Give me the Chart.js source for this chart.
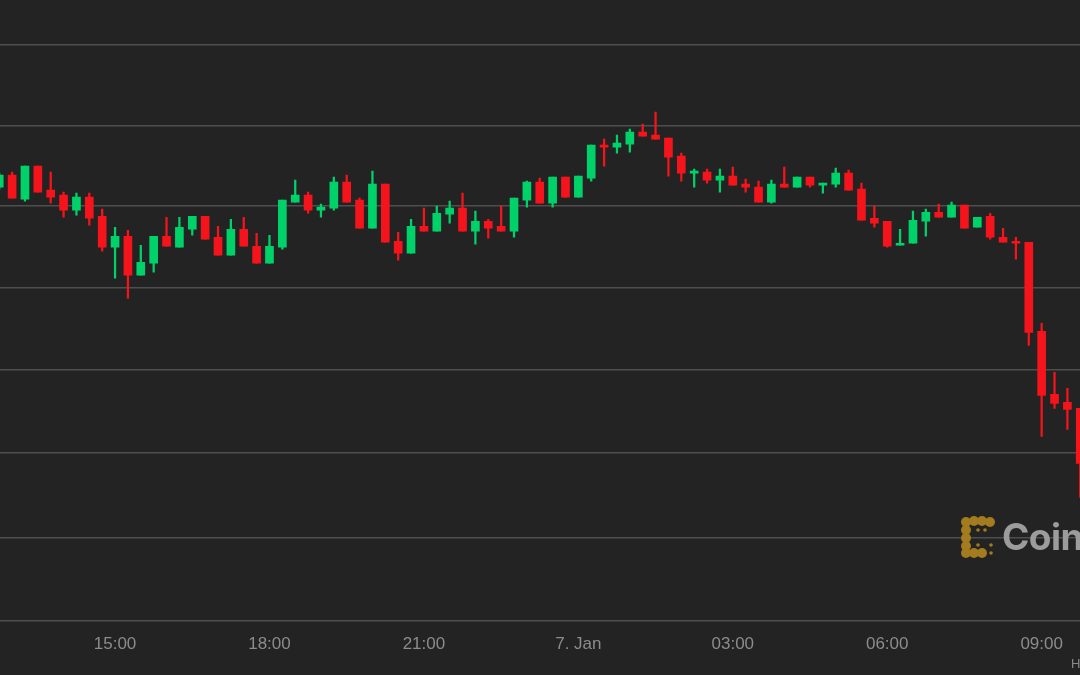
<!DOCTYPE html>
<html>
<head>
<meta charset="utf-8">
<script src="https://cdn.jsdelivr.net/npm/chart.js@4"></script>
<style>
    body { margin: 0; background: #232323; overflow: hidden; }
    #wrap { position: relative; width: 1080px; height: 675px; }
    #mark {
        position: absolute; left: 1002px; top: 514px;
        font: bold 37px "Inter", "Liberation Sans", sans-serif;
        color: #9c9c9c; white-space: nowrap; letter-spacing: -0.5px;
    }
    #corner {
        position: absolute; left: 1071px; top: 656px;
        font: 13px "Liberation Sans", sans-serif; color: #8a8a8a;
    }
</style>
</head>
<body>
<div id="wrap">
    <canvas id="chart" width="1080" height="675"></canvas>
    <div id="mark">CoinDesk</div>
    <div id="corner">H</div>
</div>
<script>
// 15-minute candles, index 9 = 15:00 on 6 Jan
const opens  = [813,825,801,834,810,805,790,803,784,753,764,725,737,764,753,771,784,763,745,771,754,737,753,798,805,790,792,818,800,772,816,759,747,774,769,786,792,769,779,774,769,800,818,797,823,803,822,855,853,856,868,865,862,844,827,828,820,824,816,813,798,816,813,823,815,816,827,811,782,779,755,757,779,788,783,795,773,784,763,759,758,669,606,598,592];
const highs  = [827,828,834,834,828,808,807,807,791,773,770,755,764,783,783,784,784,774,781,783,767,765,800,820,808,796,823,825,802,829,816,768,781,792,794,799,807,789,781,794,802,819,822,823,823,824,855,861,865,871,876,888,862,847,831,831,831,833,821,819,820,833,823,823,817,832,830,817,794,779,771,789,791,796,798,795,783,787,772,763,758,677,628,612,592];
const lows   = [811,802,799,808,797,783,785,775,749,722,702,725,728,754,753,765,761,745,745,754,737,737,751,798,787,783,790,798,772,772,758,740,747,769,769,777,769,756,762,769,763,793,797,793,803,803,819,834,847,848,864,861,824,819,813,817,808,815,808,798,797,813,813,813,807,813,810,780,773,753,755,757,764,783,783,772,773,761,758,741,655,564,592,571,503];
const closes = [825,802,834,808,803,790,803,782,753,764,725,738,764,754,773,784,761,745,771,754,737,754,800,805,790,793,818,798,772,816,758,747,774,769,787,792,769,779,772,769,802,818,797,823,803,824,855,853,857,868,864,861,843,827,828,820,824,815,813,798,816,813,823,815,817,827,810,780,777,754,757,780,788,783,795,772,783,763,758,757,668,605,597,591,537];

const tickIndex  = [9, 21, 33, 45, 57, 69, 81];
const tickLabels = ['15:00', '18:00', '21:00', '7. Jan', '03:00', '06:00', '09:00'];
const gridLevels = [380, 463, 548, 631, 713, 794, 874, 955];

const UP = '#00d26a';
const DOWN = '#f5141b';
const colors = opens.map((o, i) => closes[i] >= o ? UP : DOWN);

const logoPlugin = {
    id: 'logo',
    afterDraw(chart) {
        const c = chart.ctx;
        c.save();
        c.fillStyle = '#a47b1e';
        const dots = [[966,522],[974,521],[982,521],[990,522],[966,530],[966,538],[966,546],[974,553],[982,553],[966,553]];
        dots.forEach(([x, y]) => { c.beginPath(); c.arc(x, y, 5, 0, Math.PI * 2); c.fill(); });
        [[978,530],[985,530],[978,545],[991,545],[991,553]].forEach(([x, y]) => {
            c.beginPath(); c.arc(x, y, 1.8, 0, Math.PI * 2); c.fill();
        });
        c.restore();
    }
};

new Chart(document.getElementById('chart'), {
    type: 'bar',
    data: {
        datasets: [{
            label: 'wick',
            data: opens.map((_, i) => ({x: i, y: [lows[i], highs[i]]})),
            backgroundColor: colors,
            barThickness: 1.6,
            grouped: false,
            order: 2
        }, {
            label: 'body',
            data: opens.map((o, i) => ({x: i, y: [o, closes[i]]})),
            backgroundColor: colors,
            barThickness: 8,
            grouped: false,
            minBarLength: 2,
            order: 1
        }]
    },
    options: {
        responsive: false,
        animation: false,
        layout: {padding: {bottom: 14}},
        plugins: {legend: {display: false}, tooltip: {enabled: false}},
        scales: {
            x: {
                type: 'linear',
                min: 0.06,
                max: 83.98,
                offset: false,
                afterBuildTicks: axis => { axis.ticks = tickIndex.map(v => ({value: v})); },
                ticks: {
                    color: '#8c8c8c',
                    font: {size: 17, family: 'Liberation Sans'},
                    padding: 6,
                    maxRotation: 0,
                    autoSkip: false,
                    callback: (v) => tickLabels[tickIndex.indexOf(v)]
                },
                grid: {display: false},
                border: {display: false}
            },
            y: {
                min: 380,
                max: 1000,
                afterBuildTicks: axis => { axis.ticks = gridLevels.map(v => ({value: v})); },
                ticks: {display: false},
                grid: {color: '#4e4e4e', lineWidth: 1.5, drawTicks: false},
                border: {display: false}
            }
        }
    },
    plugins: [logoPlugin]
});
</script>
</body>
</html>
